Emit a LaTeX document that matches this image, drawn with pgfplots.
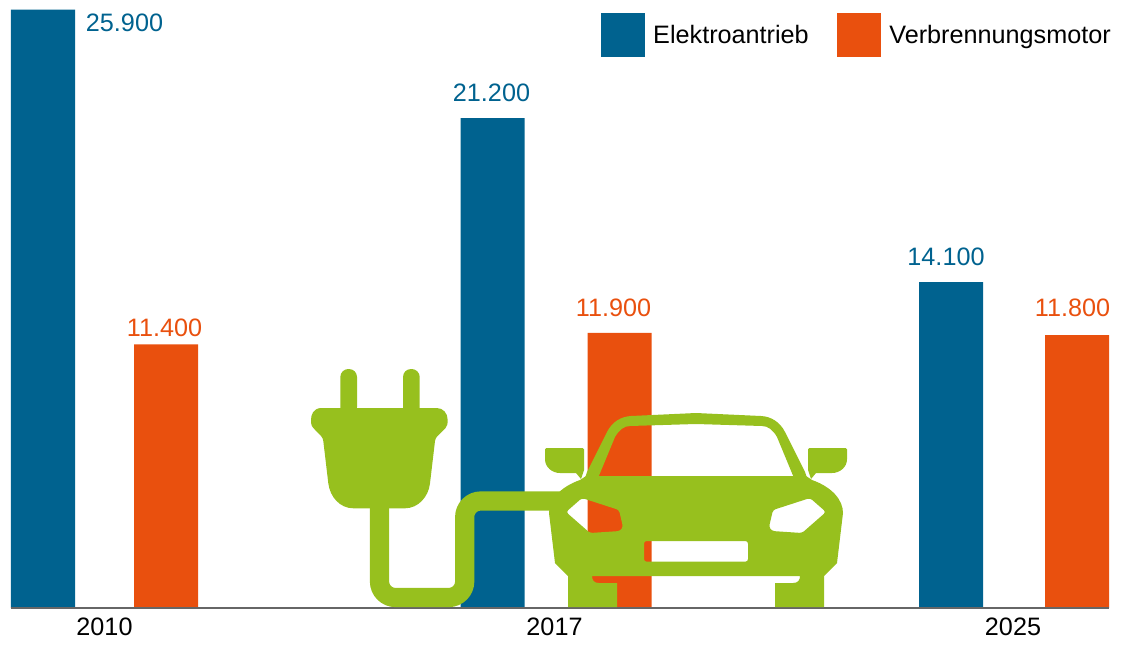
\documentclass[border=0pt]{standalone}
\usepackage{pgfplots}
\pgfplotsset{compat=1.18}
\usepackage{pgfplotstable}
\usepackage{fontspec}
\setmainfont{Liberation Sans}
\definecolor{eblue}{HTML}{00628F}
\definecolor{vorange}{HTML}{E9500E}
\definecolor{iconGreen}{HTML}{97C01E}
\definecolor{baseGrey}{HTML}{666666}

% x: bar centre, y: value, lx/ly: where the value label sits
\pgfplotstableread{
x y lx ly
43 25900 124.5 24913
492.5 21200 491.5 21900
951 14100 946 14784
}\elektro
\pgfplotstableread{
x y lx ly
166 11400 164.5 11710
619.5 11900 613.5 12576
1077 11800 1072.5 12576
}\verbrenner

\pgfplotsset{
  barseries/.style={
    ybar, bar shift=0pt, bar width=48pt, fill=#1, draw=none,
    legend image code/.code={\fill[#1] (0pt,-16.5pt) rectangle (33pt,16.5pt);}},
  labelseries/.style={
    forget plot, draw=none, mark=none, point meta=explicit,
    nodes near coords={\pgfmathprintnumber[fixed,precision=0,1000 sep={.},assume math mode=true]{\pgfplotspointmeta}},
    every node near coord/.append style={text=#1,inner sep=0pt,font=\fontsize{18.9}{22}\selectfont}}
}

\begin{document}
\begin{tikzpicture}
\path[use as bounding box] (0,0) rectangle (845.25pt,-484.5pt);
\begin{axis}[
  at={(8.25pt,-455.85pt)}, anchor=south west,
  scale only axis, width=823.5pt, height=450.45pt,
  xmin=11, xmax=1109, ymin=0, ymax=26000,
  axis y line=none, axis x line=bottom, axis on top,
  axis line style={-, draw=baseGrey, line width=1.5pt},
  xtick={104.5,554.5,1013}, xticklabels={2010,2017,2025},
  major tick length=0pt,
  xticklabel style={text=black,font=\fontsize{18.9}{22}\selectfont,yshift=-4pt},
  clip=false,
  legend columns=2,
  legend style={at={(1.004,0.99)},anchor=north east,draw=none,fill=none,inner sep=0pt,outer sep=0pt,
    font=\fontsize{18.9}{22}\selectfont,
    /tikz/every odd column/.append style={column sep=4.5pt},
    /tikz/every even column/.append style={column sep=19pt}},
  legend cell align=left,
]
\addplot[barseries=eblue] table[x=x,y=y] {\elektro};
\addlegendentry{Elektroantrieb}
\addplot[barseries=vorange] table[x=x,y=y] {\verbrenner};
\addlegendentry{Verbrennungsmotor}
\addplot[labelseries=eblue] table[x=lx,y=ly,meta=y] {\elektro};
\addplot[labelseries=vorange] table[x=lx,y=ly,meta=y] {\verbrenner};
\end{axis}

% Plug, cable and car illustration in a top-left origin grid
\begin{scope}[x=0.75pt,y=-0.75pt]
  % cable
  \draw[iconGreen,line width=14.4pt,rounded corners=12pt]
    (379.5,500) -- (379.5,597.5) -- (464.7,597.5) -- (464.7,501) -- (565,501);
  % pins
  \fill[iconGreen,rounded corners=6pt] (340.3,415) -- (340.3,369) -- (357,369) -- (357,415) -- cycle;
  \fill[iconGreen,rounded corners=6pt] (403,415) -- (403,369) -- (419.7,369) -- (419.7,415) -- cycle;
  % plug body
  \fill[iconGreen] (321.7,408) .. controls (313,408) and (311,415) .. (311,420)
    .. controls (311,425) and (312,427) .. (313.3,428) -- (321,436)
    .. controls (322.5,437.5) and (323,439) .. (323.3,441)
    -- (328.3,483.3) .. controls (330,497) and (340,508.3) .. (353.3,508.3)
    -- (405,508.3) .. controls (418,508.3) and (428.5,497) .. (430,483.3)
    -- (435,441) .. controls (435.3,439) and (436,437.5) .. (437.5,436)
    -- (445.5,428) .. controls (447,426.5) and (447.7,424) .. (447.7,420)
    .. controls (447.7,413) and (443,408) .. (436.7,408) -- cycle;
  \begin{scope}[shift={(696,0)}]
    % body and wheels, with headlights and grille left open
    \fill[iconGreen,even odd rule]
      (-110,476) -- (110,476) -- (116,480)
      .. controls (136,487) and (147,500) .. (147,513)
      -- (141,563) -- (128,576) -- (128,607) -- (79,607) -- (79,583) -- (97,583)
      .. controls (102,583) and (104,580) .. (104,576)
      -- (-104,576) .. controls (-104,580) and (-102,583) .. (-97,583)
      -- (-79,583) -- (-79,607) -- (-128,607) -- (-128,576) -- (-141,563) -- (-147,513)
      .. controls (-147,500) and (-136,487) .. (-116,480) -- cycle
      [rounded corners=2pt]
      (114,498) -- (130,512) -- (106,533) -- (76,531) -- (73,527) -- (77,510) -- cycle
      (-114,498) -- (-130,512) -- (-106,533) -- (-76,531) -- (-73,527) -- (-77,510) -- cycle
      (-52,541) -- (52,541) -- (52,561.7) -- (-52,561.7) -- cycle;
    % roof pillars
    \fill[iconGreen]
      (-109,472) -- (-89,432) .. controls (-84,422) and (-75,416.5) .. (-65,416)
      -- (0,413) -- (65,416) .. controls (75,416.5) and (84,422) .. (89,432)
      -- (109,472) -- (111,478) -- (98,478) -- (81,437) .. controls (77,430) and (72,426) .. (66,426)
      -- (0,424) -- (-66,426) .. controls (-72,426) and (-77,430) .. (-81,437)
      -- (-98,478) -- (-111,478) -- cycle;
    % mirrors
    \fill[iconGreen,rounded corners=1pt] (112,470) -- (112,448) -- (151,448) -- (151,458)
      [sharp corners] .. controls (151,467) and (144,473) .. (136,473)
      -- (120,473) -- (115,479) -- cycle;
    \fill[iconGreen,rounded corners=1pt] (-112,470) -- (-112,448) -- (-151,448) -- (-151,458)
      [sharp corners] .. controls (-151,467) and (-144,473) .. (-136,473)
      -- (-120,473) -- (-115,479) -- cycle;
  \end{scope}
\end{scope}
\end{tikzpicture}
\end{document}
